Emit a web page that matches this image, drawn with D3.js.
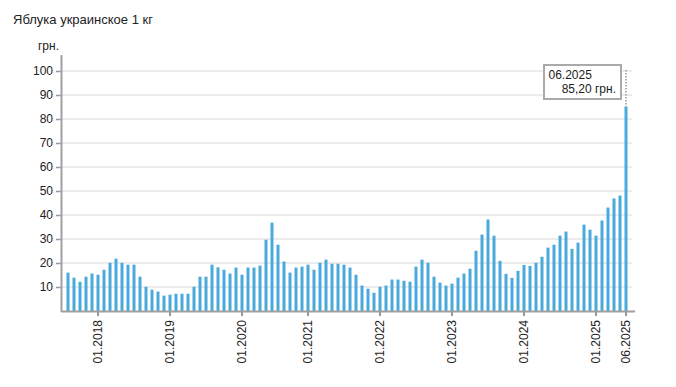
<!DOCTYPE html>
<html>
<head>
<meta charset="utf-8">
<script src="https://cdn.jsdelivr.net/npm/d3@7"></script>
<style>
  body { margin: 0; background: #fff; font-family: "Liberation Sans", Arial, sans-serif; }
  svg text { fill: #222; }
</style>
</head>
<body>
<div id="container"></div>
<script>
// months 08.2017 .. 06.2025 (05.2020 absent in source)
var months = []
for (var y = 2017; y <= 2025; y++) {
  for (var m = 1; m <= 12; m++) {
    if (y == 2017 && m < 8) continue
    if (y == 2025 && m > 6) continue
    if (y == 2020 && m == 5) continue
    months.push((m < 10 ? "0" + m : "" + m) + "." + y)
  }
}
var prices = [
  16.0, 13.9, 12.2, 14.3, 15.6,
  15.1, 17.2, 20.1, 21.8, 20.1, 19.3, 19.3, 14.3, 10.1, 8.9, 8.1, 6.4,
  6.8, 7.2, 7.2, 7.2, 10.1, 14.3, 14.3, 19.3, 18.2, 17.2, 15.6, 18.1,
  15.1, 18.1, 18.1, 18.9, 29.7, 36.8, 27.6, 20.6, 16.0, 18.1, 18.5,
  19.3, 17.2, 20.1, 21.4, 19.7, 19.7, 19.3, 18.1, 15.1, 10.6, 9.3, 7.6,
  10.1, 10.6, 13.1, 13.1, 12.6, 12.2, 18.5, 21.4, 20.1, 14.3, 11.8, 10.6,
  11.4, 13.9, 15.6, 17.6, 25.1, 31.8, 38.1, 31.4, 20.9, 15.5, 13.8, 16.7,
  19.2, 18.8, 20.1, 22.6, 26.4, 27.6, 31.4, 33.1, 25.9, 28.5, 36.0, 33.9,
  31.4, 37.7, 43.1, 46.9, 48.1, 85.2
]
var xTicks = ["01.2018", "01.2019", "01.2020", "01.2021", "01.2022", "01.2023", "01.2024", "01.2025", "06.2025"]
var yTicks = [10, 20, 30, 40, 50, 60, 70, 80, 90, 100]

var ancho = 676, alto = 387
var svg = d3.select("#container").append("svg")
  .attr("width", ancho).attr("height", alto)

var x = d3.scaleBand().domain(months).range([65, 629]).paddingInner(0.5).paddingOuter(0.25)
var y = d3.scaleLinear().domain([0, 100]).range([311, 71])

svg.append("text").attr("x", 13).attr("y", 24)
  .style("font-size", "13px").text("Яблука украинское 1 кг")

// gridlines
svg.selectAll("line.grid").data(yTicks).enter().append("line")
  .attr("class", "grid")
  .attr("x1", 62).attr("x2", 632)
  .attr("y1", function(d) { return y(d) }).attr("y2", function(d) { return y(d) })
  .attr("stroke", "#e6e6e6").attr("stroke-width", 1.5)

// bars
svg.selectAll("rect.bar").data(prices).enter().append("rect")
  .attr("class", "bar")
  .attr("x", function(d, i) { return x(months[i]) })
  .attr("width", x.bandwidth())
  .attr("y", function(d) { return y(d) })
  .attr("height", function(d) { return y(0) - y(d) })
  .attr("fill", "#4aaadb")

// y axis
var yAxis = svg.append("g").attr("transform", "translate(61,0)")
  .call(d3.axisLeft(y).tickValues(yTicks).tickSize(5).tickPadding(3))
yAxis.select(".domain").remove()
yAxis.selectAll(".tick line").attr("stroke", "#999").attr("stroke-width", 1.5)
yAxis.selectAll(".tick text").style("font-size", "12px").style("font-family", "Liberation Sans, Arial, sans-serif").attr("fill", "#222")
svg.append("line").attr("x1", 61.5).attr("x2", 61.5).attr("y1", 55).attr("y2", 312)
  .attr("stroke", "#a0a0a0").attr("stroke-width", 2)
svg.append("text").attr("x", 59).attr("y", 50).attr("text-anchor", "end")
  .style("font-size", "12px").text("грн.")

// x axis
var xAxis = svg.append("g").attr("transform", "translate(0,311)")
  .call(d3.axisBottom(x).tickValues(xTicks).tickSize(5).tickPadding(6))
xAxis.select(".domain").remove()
xAxis.selectAll(".tick line").attr("stroke", "#999").attr("stroke-width", 2)
xAxis.selectAll(".tick text")
  .style("font-size", "12px").style("font-family", "Liberation Sans, Arial, sans-serif").attr("fill", "#222")
  .attr("transform", "rotate(-90)")
  .attr("text-anchor", "end").attr("x", -9).attr("y", 0).attr("dy", "0.35em")
svg.append("line").attr("x1", 61).attr("x2", 635).attr("y1", 311.5).attr("y2", 311.5)
  .attr("stroke", "#a0a0a0").attr("stroke-width", 2)

// tooltip on last bar
var last = months.length - 1
var cx = x(months[last]) + x.bandwidth() / 2
svg.append("line").attr("x1", cx).attr("x2", cx).attr("y1", 70).attr("y2", y(prices[last]))
  .attr("stroke", "#999").attr("stroke-width", 1.5).attr("stroke-dasharray", "1.5,1.5")
svg.append("rect").attr("x", 544).attr("y", 65).attr("width", 77).attr("height", 34)
  .attr("fill", "#fff").attr("stroke", "#aaa").attr("stroke-width", 2)
svg.append("text").attr("x", 548.5).attr("y", 79).style("font-size", "12px").text(months[last])
svg.append("text").attr("x", 616).attr("y", 93).attr("text-anchor", "end")
  .style("font-size", "12px").text(prices[last].toFixed(2).replace(".", ",") + " грн.")
</script>
</body>
</html>
